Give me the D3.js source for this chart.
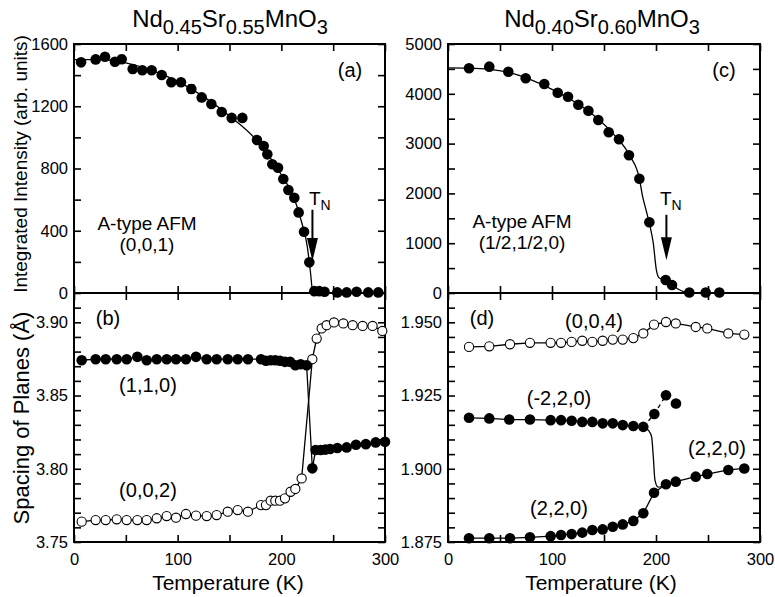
<!DOCTYPE html>
<html><head><meta charset="utf-8">
<script src="https://cdn.jsdelivr.net/npm/d3@7"></script>
<style>
body{margin:0;background:#fff;}
svg text{font-family:"Liberation Sans",Arial,Helvetica,sans-serif;fill:#000;}
</style></head>
<body><svg id="c" width="775" height="597"></svg>
<script>
// ---------- DATA ----------
// Panel (a): Nd0.45Sr0.55MnO3, (0,0,1) integrated intensity
const aT = [6.8,20.9,29.9,39.5,46,56.6,65.9,74.9,84.6,93.9,103.2,113.2,123.2,132.5,142.5,152.1,162.4,176.5,183,186.5,191.3,196.8,201.9,206.8,212.5,216.7,221.9,227,231.8,236.6,241.7,254,263,272.6,283.8,293.5];
const aI = [1482,1501,1518,1486,1502,1439,1431,1431,1401,1354,1354,1311,1257,1214,1163,1125,1125,983,945,891,827,805,733,662,612,518,394,197,12,12,8,4,4,8,4,4];
const aErr = [18,25,18,20,25,25,22,18,20,18,22,28,0,0,0,0,0,0,0,0,0,0,0,0,0,0,0,0,0,0,0,0,0,0,0,0];
const fitAT = [0,25,50,75,100,125,150,175,200,212,220,225,228,230.5,300];
const fitAI = [1500,1500,1478,1430,1360,1262,1138,990,760,615,445,300,140,0,0];
// Panel (c): Nd0.40Sr0.60MnO3, (1/2,1/2,0)
const cT = [20.2,39.7,58,74.7,92.6,105.5,115.4,125.3,135,144.5,154.5,164.4,174,184,193.6,209.3,215.4,232,247.8,260.9];
const cI = [4512,4545,4444,4311,4197,4022,3942,3781,3661,3474,3227,3086,2765,2295,1420,261,161,10,10,10];
const fitCT = [0,20,40,60,80,100,120,140,160,175,184,187,190,193.6,197.4,200.3,203.2,209.3,215.4,222,232,262];
const fitCI = [4520,4515,4490,4420,4280,4090,3860,3570,3170,2750,2300,1950,1700,1400,1000,470,300,255,165,70,0,0];
// Panel (b): (1,1,0) filled, (0,0,2) open
const b110T = [7.4,20.9,30.6,41.2,50.8,61.1,70.1,79.8,89.4,98.4,108,117.7,128,137.6,148.3,157.9,167.8,180.4,185.2,189.7,194.2,198.7,203.5,208.4,213.5,218.7,224.4,229.9,233.1,238,242.5,247,254,263,272,281.5,291,300];
const b110d = [3.8741,3.8748,3.8748,3.8748,3.8748,3.8764,3.8741,3.8748,3.8748,3.8748,3.8748,3.8764,3.8748,3.8748,3.8748,3.8748,3.8748,3.8748,3.8737,3.8741,3.8741,3.8737,3.8730,3.8730,3.8707,3.8714,3.8707,3.8003,3.8128,3.8128,3.8131,3.8135,3.8142,3.8146,3.8164,3.8168,3.8180,3.8184];
const b002T = [7.4,20.9,30.6,41.2,50.8,61.1,70.1,79.8,89.4,98.4,108,117.7,128,137.6,148.3,157.9,167.8,180.4,185.2,189.7,194.2,198.7,203.5,208.9,213.5,219.6,229.9,234.1,238.9,243.7,250.8,259.8,268.8,278.4,288,297.4];
const b002d = [3.7639,3.7650,3.7650,3.7655,3.7650,3.7650,3.7650,3.7662,3.7677,3.7666,3.7691,3.7680,3.7677,3.7684,3.7707,3.7718,3.7707,3.7752,3.7752,3.7782,3.7782,3.7782,3.7798,3.7843,3.7862,3.7934,3.8748,3.8889,3.8958,3.8980,3.8999,3.8992,3.8980,3.8975,3.8975,3.8941];
// Panel (d): (0,0,4) open, (-2,2,0) filled, (2,2,0) filled
const d004T = [20.2,39.7,59.6,78.8,98.7,108.7,118.9,129.1,138.8,148.7,158.4,168,178.2,187.8,198.1,209.6,219,238.2,249.3,269.5,284.9];
const d004d = [1.9416,1.9418,1.9425,1.9430,1.9430,1.9430,1.9433,1.9437,1.9433,1.9437,1.9441,1.9441,1.9446,1.9462,1.9492,1.9501,1.9496,1.9484,1.9479,1.9462,1.9458];
const dm220T = [20.2,39.7,58.9,78.8,98.7,108.7,118.9,129.1,138.8,148.7,158.4,168,178.2,187.8];
const dm220d = [1.9174,1.9172,1.9168,1.9168,1.9166,1.9166,1.9164,1.9160,1.9160,1.9155,1.9155,1.9149,1.9146,1.9143];
const dm220hiT = [198.4,209.6,219.2];
const dm220hid = [1.9187,1.9251,1.9223];
const transT = [187.8,193,195.8,197.4,199,202,209.6];
const transd = [1.9143,1.913,1.9109,1.9041,1.8961,1.8937,1.8947];
const d220T = [20.2,39.7,59.6,78.8,98.7,108.7,118.9,129.1,138.8,148.7,158.4,168,178.2,187.8,198.1,209.6,219,238.2,249.3,269.5,284.9];
const d220d = [1.8763,1.8763,1.8763,1.8766,1.8770,1.8774,1.8777,1.8782,1.8791,1.8793,1.8802,1.8810,1.8822,1.8848,1.8918,1.8947,1.8956,1.8973,1.8982,1.8996,1.9001];
// Tick labels
const xTickLabels = [0,100,200,300];
const aTicks = [0,400,800,1200,1600];
const cTicks = [0,1000,2000,3000,4000,5000];
const bTicks = [3.75,3.80,3.85,3.90];
const dTicks = [1.875,1.900,1.925,1.950];

// ---------- DRAW ----------
const svg = d3.select("#c");
const zip = (xs, ys) => xs.map((x,i)=>({x, y: ys[i], i}));
const TICKFONT = "16.5px";

function panel(o){
  const x = d3.scaleLinear().domain([0,300]).range(o.xr);
  const y = d3.scaleLinear().domain(o.yd).range(o.yr);
  const g = svg.append("g");
  const tl = 7;
  const xt = d3.range(0,301,50);
  g.append("g").attr("transform",`translate(0,${o.yr[0]})`)
    .call(d3.axisBottom(x).tickValues(xt).tickSizeInner(-tl).tickSizeOuter(0)
      .tickFormat(o.xlabels? (d=> xTickLabels.includes(d)? d:"") : ""))
    .call(a=>{a.select(".domain").remove(); a.selectAll("text").attr("dy","0.71em").attr("y",11).style("font-size",TICKFONT);});
  g.append("g").attr("transform",`translate(0,${o.yr[1]})`)
    .call(d3.axisTop(x).tickValues(xt).tickSizeInner(-tl).tickSizeOuter(0).tickFormat(""))
    .call(a=>a.select(".domain").remove());
  g.append("g").attr("transform",`translate(${o.xr[0]},0)`)
    .call(d3.axisLeft(y).tickValues(o.yminor).tickSizeInner(-tl).tickSizeOuter(0)
      .tickFormat(d=> o.ylab.some(v=>Math.abs(v-d)<1e-9)? o.fmt(d):""))
    .call(a=>{a.select(".domain").remove(); a.selectAll("text").attr("x",-6).style("font-size",TICKFONT);});
  g.append("g").attr("transform",`translate(${o.xr[1]},0)`)
    .call(d3.axisRight(y).tickValues(o.yminor).tickSizeInner(-tl).tickSizeOuter(0).tickFormat(""))
    .call(a=>a.select(".domain").remove());
  g.selectAll(".tick line").attr("stroke","#000").attr("stroke-width",1.6);
  g.append("rect").attr("x",o.xr[0]).attr("y",o.yr[1]).attr("width",o.xr[1]-o.xr[0]).attr("height",o.yr[0]-o.yr[1])
    .attr("fill","none").attr("stroke","#000").attr("stroke-width",2);
  return {x,y,g};
}

function line(p, xs, ys, curve, dash){
  p.g.append("path").datum(zip(xs,ys))
    .attr("d", d3.line().x(d=>p.x(d.x)).y(d=>p.y(d.y)).curve(curve||d3.curveLinear))
    .attr("fill","none").attr("stroke","#000").attr("stroke-width",1.3)
    .attr("stroke-dasharray", dash||null);
}
function pts(p, xs, ys, open){
  p.g.append("g").selectAll("circle").data(zip(xs,ys)).join("circle")
    .attr("cx",d=>p.x(d.x)).attr("cy",d=>p.y(d.y))
    .attr("r", open?4.6:5.3)
    .attr("fill", open?"#fff":"#000").attr("stroke","#000").attr("stroke-width", open?1.1:0);
}
function label(x,y,t,size,anchor){
  svg.append("text").attr("x",x).attr("y",y).attr("text-anchor",anchor||"middle")
    .style("font-size",(size||16)+"px").text(t);
}

const fmtInt = d=>String(d);
const pa = panel({xr:[74,385], yr:[293,44], yd:[0,1600], yminor:d3.range(0,1601,200), ylab:aTicks, fmt:fmtInt, xlabels:false});
const pb = panel({xr:[74,385], yr:[542,293], yd:[3.75,3.92], yminor:d3.range(0,17).map(i=>+(3.75+i*0.01).toFixed(2)), ylab:bTicks, fmt:d3.format(".2f"), xlabels:true});
const pc = panel({xr:[448,760], yr:[293,44], yd:[0,5000], yminor:d3.range(0,5001,500), ylab:cTicks, fmt:fmtInt, xlabels:false});
const pd = panel({xr:[448,760], yr:[542,293], yd:[1.875,1.96], yminor:d3.range(0,17).map(i=>+(1.875+i*0.005).toFixed(3)), ylab:dTicks, fmt:d3.format(".3f"), xlabels:true});

// (a)
line(pa, fitAT, fitAI, d3.curveMonotoneX);
pa.g.append("g").selectAll("path").data(zip(aT,aI).filter(d=>aErr[d.i]>0)).join("path")
  .attr("d",d=>{const x=pa.x(d.x), y1=pa.y(d.y-aErr[d.i]), y2=pa.y(d.y+aErr[d.i]);
    return `M${x},${y1}V${y2}M${x-3},${y1}H${x+3}M${x-3},${y2}H${x+3}`;})
  .attr("stroke","#000").attr("stroke-width",1.2).attr("fill","none");
pts(pa, aT, aI, false);
// (c)
line(pc, fitCT, fitCI, d3.curveMonotoneX);
pts(pc, cT, cI, false);
// (b)
line(pb, b110T, b110d);
line(pb, b002T, b002d);
pts(pb, b002T, b002d, true);
pts(pb, b110T, b110d, false);
// (d)
line(pd, d004T, d004d);
line(pd, dm220T, dm220d);
line(pd, transT, transd, d3.curveMonotoneX);
line(pd, [dm220T[dm220T.length-1]].concat(dm220hiT), [dm220d[dm220d.length-1]].concat(dm220hid), d3.curveLinear, "4,4");
line(pd, d220T, d220d);
pts(pd, d004T, d004d, true);
pts(pd, dm220T, dm220d, false);
pts(pd, dm220hiT, dm220hid, false);
pts(pd, d220T, d220d, false);

// arrows (T_N)
function arrow(p, T, v0, v1){
  const x=p.x(T), y0=p.y(v0), y1=p.y(v1);
  p.g.append("line").attr("x1",x).attr("x2",x).attr("y1",y0).attr("y2",y1-18).attr("stroke","#000").attr("stroke-width",2);
  p.g.append("path").attr("d",`M${x-5.5},${y1-23}L${x+5.5},${y1-23}L${x},${y1}Z`).attr("fill","#000");
}
arrow(pa, 230, 535, 205);
arrow(pc, 210, 1570, 660);
function tn(x,y){
  const t=svg.append("text").attr("x",x).attr("y",y).style("font-size","19px");
  t.append("tspan").text("T");
  t.append("tspan").attr("dy",5).style("font-size","14px").text("N");
}
tn(309,205);
tn(660,205);

// panel annotations
const AF = 20;
label(350,77,"(a)",AF);
label(724,77,"(c)",AF);
label(108,325,"(b)",AF);
label(482,325,"(d)",AF);
label(147,230,"A-type AFM",19);
label(147,251,"(0,0,1)",19);
label(522,228,"A-type AFM",19);
label(522,249,"(1/2,1/2,0)",19);
label(148,392,"(1,1,0)",AF);
label(148,497,"(0,0,2)",AF);
label(594,328,"(0,0,4)",AF);
label(559,405,"(-2,2,0)",AF);
label(717,455,"(2,2,0)",AF);
label(559,515,"(2,2,0)",AF);

// titles
function title(x, parts){
  const t=svg.append("text").attr("x",x).attr("y",27).attr("text-anchor","middle").style("font-size","24px");
  parts.forEach(([s,sub])=>{
    const ts=t.append("tspan").text(s);
    if(sub==="sub") ts.style("font-size","20px").attr("dy",7);
    else if(sub==="up") ts.attr("dy",-7);
  });
}
title(230, [["Nd"],["0.45","sub"],["Sr","up"],["0.55","sub"],["MnO","up"],["3","sub"]]);
title(602, [["Nd"],["0.40","sub"],["Sr","up"],["0.60","sub"],["MnO","up"],["3","sub"]]);

// axis titles
label(228,590,"Temperature (K)",21);
label(601,590,"Temperature (K)",21);
svg.append("text").attr("transform","translate(27,164) rotate(-90)").attr("text-anchor","middle").style("font-size","19px").text("Integrated Intensity (arb. units)");
svg.append("text").attr("transform","translate(29,418) rotate(-90)").attr("text-anchor","middle").style("font-size","22px").text("Spacing of Planes (Å)");
</script></body></html>
